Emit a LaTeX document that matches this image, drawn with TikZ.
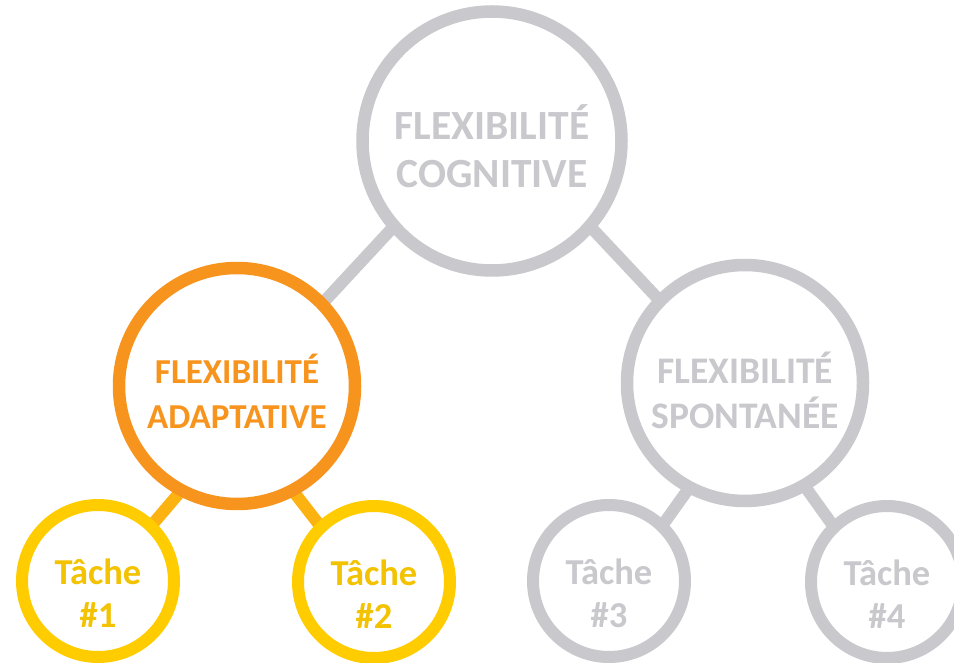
\documentclass[tikz,border=0pt]{standalone}
\usepackage{fontspec}
\setmainfont{Carlito}
\usetikzlibrary{backgrounds}
\definecolor{gris}{RGB}{200,200,205}
\definecolor{orangeflex}{RGB}{247,148,30}
\definecolor{jaune}{RGB}{255,204,0}
\definecolor{jaunetexte}{RGB}{243,194,0}
\definecolor{lienjaune}{RGB}{252,178,16}

\begin{document}
\begin{tikzpicture}[x=1pt, y=-1pt,
        bulle/.style={circle, draw=#1, fill=white, line width=12.5pt, outer sep=0pt, inner sep=0pt},
        grosse/.style={bulle=#1, minimum size=236pt},
        petite/.style={bulle=#1, minimum size=152pt, line width=12pt},
        etiquette/.style={text=#1, align=center, inner sep=0pt},
        lien/.style={line width=12pt}]
        % Arbre de la flexibilite cognitive
        \useasboundingbox (0,0) rectangle (954,663);
        \node[bulle=gris, minimum size=259pt] (cognitive) at (492,141) {};
        \node[grosse=orangeflex] (adaptative) at (237,386) {};
        \node[grosse=gris] (spontanee) at (745,383) {};
        \node[petite=jaune] (tache1) at (98,581) {};
        \node[petite=jaune] (tache2) at (374,582) {};
        \node[petite=gris] (tache3) at (609,581) {};
        \node[petite=gris] (tache4) at (887,582) {};
        % textes
        \node[etiquette=gris, font=\fontsize{41.5}{48}\selectfont\bfseries] (txtcognitive) at ([yshift=-5pt]cognitive.center) {FLEXIBILITÉ\\COGNITIVE};
        \node[etiquette=orangeflex, font=\fontsize{35}{45}\selectfont\bfseries] (txtadaptative) at ([yshift=-5pt]adaptative.center) {FLEXIBILITÉ\\ADAPTATIVE};
        \node[etiquette=gris, font=\fontsize{37.5}{45}\selectfont\bfseries] (txtspontanee) at ([yshift=-7pt]spontanee.center) {FLEXIBILITÉ\\SPONTANÉE};
        \node[etiquette=jaunetexte, font=\fontsize{36.5}{43}\selectfont\bfseries] (txttache1) at ([yshift=-12pt]tache1.center) {Tâche\\\#1};
        \node[etiquette=jaunetexte, font=\fontsize{36.5}{43}\selectfont\bfseries] (txttache2) at ([yshift=-12pt]tache2.center) {Tâche\\\#2};
        \node[etiquette=gris, font=\fontsize{36.5}{43}\selectfont\bfseries] (txttache3) at ([yshift=-12pt]tache3.center) {Tâche\\\#3};
        \node[etiquette=gris, font=\fontsize{36.5}{43}\selectfont\bfseries] (txttache4) at ([yshift=-12pt]tache4.center) {Tâche\\\#4};
        \begin{scope}[on background layer]
            \draw[lien, gris] (cognitive.-139) -- (adaptative.44);
            \draw[lien, gris] (cognitive.-41) -- (spontanee.136);
            \draw[lien, lienjaune] (adaptative.-118) -- (tache1.46);
            \draw[lien, lienjaune] (adaptative.-62) -- (tache2.134);
            \draw[lien, gris] (spontanee.-118) -- (tache3.46);
            \draw[lien, gris] (spontanee.-60) -- (tache4.134);
        \end{scope}
    \end{tikzpicture}
\end{document}
